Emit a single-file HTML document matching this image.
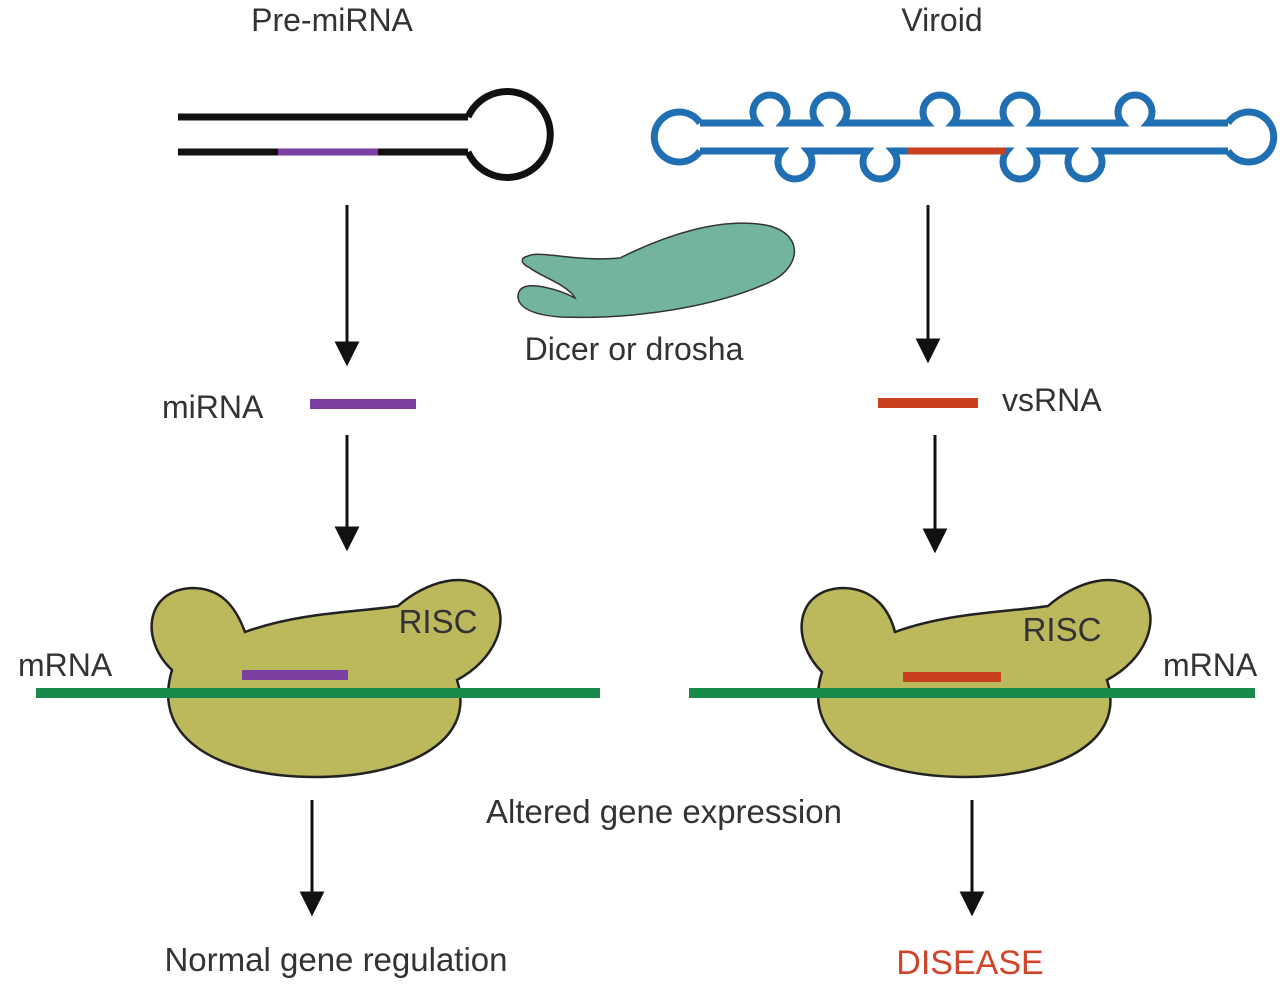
<!DOCTYPE html>
<html><head><meta charset="utf-8"><style>
html,body{margin:0;padding:0;background:#fff}
svg{display:block}
text{font-family:"Liberation Sans",Arial,sans-serif;fill:#333}
</style></head><body>
<svg width="1288" height="998" viewBox="0 0 1288 998" xmlns="http://www.w3.org/2000/svg">
<!-- titles -->
<text x="332" y="31" font-size="32" text-anchor="middle">Pre-miRNA</text>
<text x="942" y="31" font-size="32" text-anchor="middle">Viroid</text>

<!-- pre-miRNA hairpin -->
<g fill="none" stroke="#111" stroke-width="7">
<path d="M178,117 H468"/>
<path d="M178,152 H468"/>
<path d="M468,117 A43,43 0 1 1 468,152"/>
</g>
<line x1="278" y1="152" x2="378" y2="152" stroke="#7a3fa0" stroke-width="7"/>

<!-- viroid -->
<g fill="none" stroke="#1f6fb2" stroke-width="7">
<path d="M700,123 H757 A17,17 0 1 1 783,123 H817 A17,17 0 1 1 843,123 H927 A17,17 0 1 1 953,123 H1007 A17,17 0 1 1 1033,123 H1122 A17,17 0 1 1 1148,123 H1228"/>
<path d="M700,151 H782 A17,17 0 1 0 808,151 H867 A17,17 0 1 0 893,151 H1007 A17,17 0 1 0 1033,151 H1072 A17,17 0 1 0 1098,151 H1228"/>
<path d="M700,123 A25,25 0 1 0 700,151"/>
<path d="M1228,123 A25,25 0 1 1 1228,151"/>
</g>
<line x1="907" y1="151" x2="1005" y2="151" stroke="#c8401e" stroke-width="7"/>

<!-- dicer -->
<path d="M528,256 C540,250 575,262 620,258 C660,238 720,215 770,226 C805,236 800,268 770,282 C720,305 640,320 560,317 C520,314 514,300 520,290 C528,280 560,290 575,298 C568,285 540,276 530,268 C520,263 520,258 528,256 Z" fill="#72b4a0" stroke="#333" stroke-width="1.5"/>
<text x="634" y="360" font-size="32" text-anchor="middle">Dicer or drosha</text>

<!-- arrows -->
<g stroke="#111" stroke-width="3" fill="#111">
<line x1="347" y1="205" x2="347" y2="345"/><path d="M337,343 L357,343 L347,363 Z"/>
<line x1="347" y1="435" x2="347" y2="530"/><path d="M337,528 L357,528 L347,548 Z"/>
<line x1="928" y1="205" x2="928" y2="342"/><path d="M918,340 L938,340 L928,360 Z"/>
<line x1="935" y1="435" x2="935" y2="532"/><path d="M925,530 L945,530 L935,550 Z"/>
<line x1="312" y1="800" x2="312" y2="895"/><path d="M302,893 L322,893 L312,913 Z"/>
<line x1="972" y1="800" x2="972" y2="895"/><path d="M962,893 L982,893 L972,913 Z"/>
</g>

<!-- miRNA / vsRNA -->
<text x="162" y="418" font-size="32">miRNA</text>
<line x1="310" y1="404" x2="416" y2="404" stroke="#7a3fa0" stroke-width="10"/>
<line x1="878" y1="403" x2="978" y2="403" stroke="#c8401e" stroke-width="10"/>
<text x="1002" y="411" font-size="32">vsRNA</text>

<!-- left RISC -->
<path d="M172,670 C140,640 145,590 192,588 C220,588 235,605 245,632 C300,612 360,612 398,606 C425,582 468,568 492,594 C512,620 495,660 457,680 C478,745 400,777 315,777 C225,777 150,742 172,670 Z" fill="#bcb85c" stroke="#222" stroke-width="2.5"/>
<text x="438" y="633" font-size="33" text-anchor="middle" fill="#222">RISC</text>
<line x1="36" y1="693" x2="600" y2="693" stroke="#1a8a4a" stroke-width="10"/>
<line x1="242" y1="675" x2="348" y2="675" stroke="#7a3fa0" stroke-width="10"/>
<text x="18" y="676" font-size="32">mRNA</text>

<!-- right RISC -->
<path d="M822,672 C790,640 795,590 842,588 C870,588 888,605 895,632 C950,612 1010,612 1048,606 C1075,582 1118,568 1142,594 C1162,620 1145,660 1107,680 C1128,745 1050,777 965,777 C875,777 800,742 822,672 Z" fill="#bcb85c" stroke="#222" stroke-width="2.5"/>
<text x="1062" y="641" font-size="33" text-anchor="middle" fill="#222">RISC</text>
<line x1="689" y1="693" x2="1255" y2="693" stroke="#1a8a4a" stroke-width="10"/>
<line x1="903" y1="677" x2="1001" y2="677" stroke="#c8401e" stroke-width="10"/>
<text x="1163" y="676" font-size="32">mRNA</text>

<text x="664" y="823" font-size="33" text-anchor="middle">Altered gene expression</text>
<text x="336" y="971" font-size="33" text-anchor="middle">Normal gene regulation</text>
<text x="970" y="974" font-size="34" text-anchor="middle" style="fill:#d0452a">DISEASE</text>
</svg>
</body></html>
